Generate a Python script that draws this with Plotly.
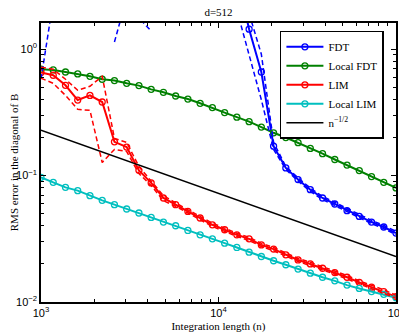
import plotly.graph_objects as go

# integration lengths (n), 30 log-spaced points
n = [1000, 1172, 1374, 1610, 1887, 2212, 2593, 3039, 3562, 4175,
     4894, 5736, 6723, 7880, 9237, 10826, 12690, 14874, 17433, 20434,
     23950, 28072, 32903, 38566, 45204, 52983, 62102, 72790, 85317, 100000]

nan = None

fdt = [9.5, 8.7, 7.9, 7.4, 6.8, 6.3, 6.0, 5.6, 5.3, 5.0,
       4.8, 4.6, 4.4, 4.2, 4.0, 3.9, 3.8, 1.44, 0.660, 0.171,
       0.115, 0.0930, 0.0774, 0.0665, 0.0596, 0.0528, 0.0475, 0.0429, 0.0392, 0.0351]
fdt_hi = [14, 13, 12, 11, 10, 9.5, 9.0, 8.4, 8.0, 7.5,
          7.2, 6.9, 6.6, 6.3, 6.0, 5.8, 5.7, 1.91, 0.913, 0.183,
          0.118, 0.0958, 0.0797, 0.0685, 0.0614, 0.0544, 0.0489, 0.0442, 0.0404, 0.0362]
fdt_lo = [0.58, 2.4, nan, nan, nan, nan, 1.14, 2.55, 1.77, 1.39,
          nan, nan, nan, nan, nan, nan, 2.04, 0.908, 0.398, 0.161,
          0.112, 0.0903, 0.0751, 0.0646, 0.0579, 0.0513, 0.0461, 0.0417, 0.0381, 0.0341]

local_fdt = [0.694, 0.685, 0.660, 0.637, 0.610, 0.578, 0.564, 0.537, 0.515, 0.481,
             0.456, 0.426, 0.403, 0.373, 0.345, 0.315, 0.290, 0.267, 0.242, 0.218,
             0.200, 0.182, 0.164, 0.149, 0.134, 0.121, 0.1096, 0.0982, 0.0885, 0.0799]

lim = [0.653, 0.622, 0.518, 0.396, 0.431, 0.382, 0.185, 0.168, 0.110, 0.0875,
       0.0665, 0.0589, 0.0521, 0.0462, 0.0408, 0.0373, 0.0340, 0.0316, 0.0283, 0.0262,
       0.0236, 0.0215, 0.0200, 0.0185, 0.0171, 0.0157, 0.0143, 0.0131, 0.0121, 0.0110]
lim_hi = [0.720, 0.694, 0.578, 0.473, 0.509, 0.610, 0.197, 0.183, 0.118, 0.0913,
          0.0694, 0.0607, 0.0537, 0.0476, 0.0420, 0.0384, 0.0350, 0.0325, 0.0291, 0.0270,
          0.0243, 0.0221, 0.0206, 0.0191, 0.0176, 0.0162, 0.0147, 0.0135, 0.0125, 0.0113]
lim_lo = [0.589, 0.537, 0.431, 0.334, 0.328, 0.127, 0.161, 0.155, 0.1037, 0.0833,
          0.0633, 0.0572, 0.0506, 0.0449, 0.0396, 0.0362, 0.0330, 0.0307, 0.0275, 0.0254,
          0.0229, 0.0209, 0.0194, 0.0180, 0.0166, 0.0152, 0.0139, 0.0127, 0.0117, 0.0107]

local_lim = [0.0969, 0.0885, 0.0807, 0.0760, 0.0694, 0.0637, 0.0589, 0.0544, 0.0506, 0.0467,
             0.0429, 0.0401, 0.0368, 0.0340, 0.0316, 0.0292, 0.0270, 0.0248, 0.0229, 0.0212,
             0.0197, 0.0182, 0.0169, 0.0157, 0.0147, 0.0136, 0.0128, 0.0121, 0.0115, 0.0108]

ref_n = [1000, 100000]
ref_err = [0.229, 0.0229]

BLUE = '#0000FF'
GREEN = '#008000'
RED = '#FF0000'
CYAN = '#00BFBF'

serif = 'Liberation Serif'
sans = 'Liberation Sans'

fig = go.Figure()


def solid(y, c, name):
    fig.add_trace(go.Scatter(x=n, y=y, name=name, mode='lines+markers',
                             line=dict(color=c, width=2),
                             marker=dict(symbol='circle-open', size=6, color=c,
                                         line=dict(width=1.3, color=c))))


def dashed(y, c):
    fig.add_trace(go.Scatter(x=n, y=y, mode='lines', showlegend=False, hoverinfo='skip',
                             connectgaps=False,
                             line=dict(color=c, width=1.5, dash='5px,3px')))


solid(fdt, BLUE, 'FDT')
solid(local_fdt, GREEN, 'Local FDT')
solid(lim, RED, 'LIM')
solid(local_lim, CYAN, 'Local LIM')
fig.add_trace(go.Scatter(x=ref_n, y=ref_err, name='n<sup>\u22121/2</sup>', mode='lines',
                         line=dict(color='black', width=1.5)))
dashed(fdt_hi, BLUE)
dashed(fdt_lo, BLUE)
dashed(lim_hi, RED)
dashed(lim_lo, RED)

minor_x = [k * 10 ** e for e in (3, 4) for k in range(2, 10)]
minor_y = [k * 10 ** e for e in (-2, -1, 0) for k in range(2, 10)]

axis_common = dict(type='log', showline=True, linecolor='black', linewidth=1.5,
                   mirror='ticks', ticks='inside', ticklen=5, tickwidth=1, tickcolor='black',
                   showgrid=False, zeroline=False, automargin=False,
                   tickfont=dict(family=sans, size=11, color='black'))

fig.update_xaxes(range=[3, 5], tickmode='array', tickvals=[1e3, 1e4, 1e5],
                 ticktext=['10<sup>3</sup>', '10<sup>4</sup>', '10<sup>5</sup>'],
                 minor=dict(tickmode='array', tickvals=minor_x, ticks='inside', ticklen=3,
                            tickcolor='black', showgrid=False),
                 title=dict(text='Integration length (n)', standoff=4,
                            font=dict(family=serif, size=11, color='black')),
                 **axis_common)
fig.update_yaxes(range=[-2, 0.207], tickmode='array', tickvals=[1e-2, 1e-1, 1],
                 ticktext=['10<sup>\u22122</sup>', '10<sup>\u22121</sup>', '10<sup>0</sup>'],
                 minor=dict(tickmode='array', tickvals=minor_y, ticks='inside', ticklen=3,
                            tickcolor='black', showgrid=False),
                 title=dict(text='RMS error in the diagonal of B', standoff=2,
                            font=dict(family=serif, size=11, color='black')),
                 **axis_common)

# the page adds an 8px body margin, so the figure is 8px smaller on each side
fig.update_layout(
    width=399, height=327,
    margin=dict(l=33, r=11, t=15, b=33, autoexpand=False),
    paper_bgcolor='white', plot_bgcolor='white',
    title=dict(text='d=512', xref='paper', x=0.5, xanchor='center',
               yref='container', y=1, yanchor='top',
               font=dict(family=serif, size=11, color='black')),
    legend=dict(x=0.673, y=0.972, xanchor='left', yanchor='top',
                bgcolor='white', bordercolor='black', borderwidth=1.5,
                font=dict(family=serif, size=11, color='black'),
                itemwidth=37, tracegroupgap=0),
    showlegend=True,
)

fig.write_html("out.html")
